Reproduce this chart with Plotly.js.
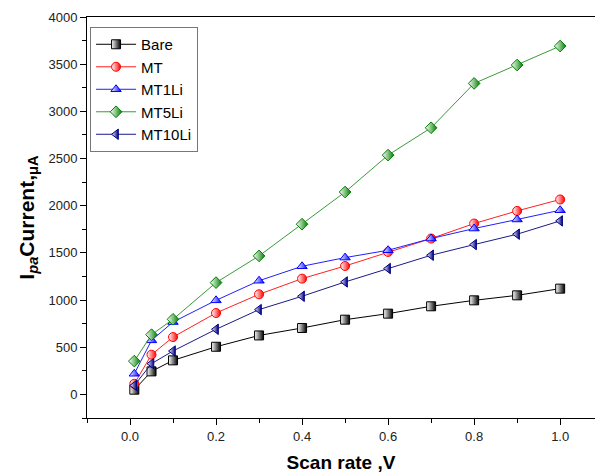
<!DOCTYPE html>
<html>
<head>
<meta charset="utf-8">
<script src="https://cdn.plot.ly/plotly-3.0.1.min.js"></script>
<style>html,body{margin:0;padding:0;background:#fff;}#chart{width:595px;height:474px;}</style>
</head>
<body>
<div id="chart"></div>
<script>
const scanRate = [0.01, 0.05, 0.1, 0.2, 0.3, 0.4, 0.5, 0.6, 0.7, 0.8, 0.9, 1.0];
const bare   = [50, 244, 361, 505, 625, 704, 792, 856, 934, 997, 1050, 1121];
const mt     = [113, 421, 608, 863, 1061, 1227, 1361, 1510, 1652, 1811, 1945, 2066];
const mt1li  = [219, 573, 767, 997, 1205, 1358, 1450, 1528, 1652, 1758, 1854, 1952];
const mt5li  = [353, 633, 796, 1185, 1468, 1804, 2145, 2536, 2826, 3296, 3491, 3692];
const mt10li = [95, 326, 460, 690, 899, 1040, 1192, 1334, 1475, 1588, 1698, 1839];

const seriesNames = ["Bare", "MT", "MT1Li", "MT5Li", "MT10Li"];
const seriesData = [bare, mt, mt1li, mt5li, mt10li];
const lineColors = ["#000000", "#ff2020", "#2020ff", "#3a9a3a", "#1a1a8a"];
const markerColors = ["#000000", "#ff0000", "#0000ff", "#008000", "#000080"];
const symbols = ["square", "circle", "triangle-up", "diamond", "triangle-left"];

const traces = seriesNames.map((n, i) => ({
  x: scanRate,
  y: seriesData[i],
  name: n,
  type: "scatter",
  mode: "lines+markers",
  line: {color: lineColors[i], width: 1},
  marker: {
    symbol: symbols[i],
    size: 9,
    color: "#ffffff",
    gradient: {type: "horizontal", color: markerColors[i]},
    line: {color: markerColors[i], width: 1}
  }
}));

const font = "Liberation Sans, Arial, sans-serif";
const layout = {
  width: 595, height: 474,
  margin: {l: 87, r: 0, t: 17, b: 56},
  paper_bgcolor: "#ffffff",
  plot_bgcolor: "#ffffff",
  showlegend: true,
  legend: {
    x: 0.006, y: 0.975, xanchor: "left", yanchor: "top",
    bordercolor: "#777777", borderwidth: 1, bgcolor: "rgba(255,255,255,0)",
    font: {family: font, size: 15, color: "#000"},
    tracegroupgap: 0, itemwidth: 40
  },
  xaxis: {
    range: [-0.1, 1.081],
    tickvals: [0, 0.2, 0.4, 0.6, 0.8, 1.0],
    ticktext: ["0.0", "0.2", "0.4", "0.6", "0.8", "1.0"],
    ticks: "outside", ticklen: 6, tickwidth: 1, tickcolor: "#000",
    minor: {tickvals: [-0.1, 0.1, 0.3, 0.5, 0.7, 0.9], ticks: "outside", ticklen: 4, tickcolor: "#000"},
    showgrid: false, zeroline: false,
    showline: true, linecolor: "#000", linewidth: 1, mirror: true,
    tickfont: {family: font, size: 13, color: "#222"},
    title: {text: "<b>Scan rate ,V</b>", font: {family: font, size: 19, color: "#000"}, standoff: 13}
  },
  yaxis: {
    range: [-250, 4000],
    tickvals: [0, 500, 1000, 1500, 2000, 2500, 3000, 3500, 4000],
    ticks: "outside", ticklen: 6, tickwidth: 1, tickcolor: "#000",
    minor: {dtick: 250, ticks: "outside", ticklen: 4, tickcolor: "#000"},
    showgrid: false, zeroline: false,
    showline: true, linecolor: "#000", linewidth: 1, mirror: false,
    tickfont: {family: font, size: 13, color: "#222"},
    title: {text: "<b>I<sub><i>pa</i></sub>Current,<sub>μA</sub></b>", font: {family: font, size: 21, color: "#000"}, standoff: 8}
  }
};

Plotly.newPlot("chart", traces, layout, {displayModeBar: false, staticPlot: true});
</script>
</body>
</html>
